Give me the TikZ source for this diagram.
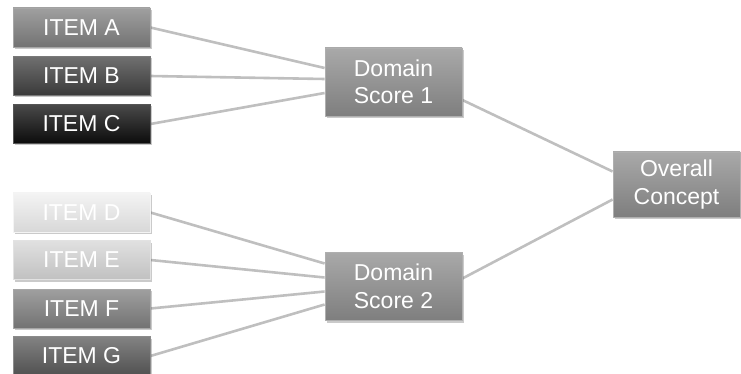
\documentclass[tikz,border=0pt]{standalone}
\usepackage{fontspec}
\setmainfont{Liberation Sans}
\usetikzlibrary{shadows,backgrounds}
\colorlet{cA}{black!50}
\colorlet{cB}{black!75}
\colorlet{cC}{black!95}
\colorlet{cD}{black!6}
\colorlet{cE}{black!16}
\colorlet{cF}{black!50}
\colorlet{cG}{black!65}
\colorlet{cDom}{black!45}
\begin{document}
\begin{tikzpicture}[x=1pt,y=-1pt,
  box/.style={rectangle, draw=#1!70!white, line width=0.8pt,
    top color=#1!75!white, bottom color=#1!90!black,
    text=white, font=\fontsize{23}{27.5}\selectfont, align=center, inner sep=0pt,
    drop shadow={shadow xshift=1.5pt, shadow yshift=-2pt, opacity=0.35, fill=black!60}},
  itembox/.style={box=#1, minimum width=137pt, minimum height=39pt},
  domainbox/.style={box=#1, minimum width=137pt, minimum height=68pt},
  link/.style={draw=black!25, line width=2.6pt}]
\useasboundingbox (0,0) rectangle (741,374);

% left column: items
\node[itembox=cA] (a) at (81.5,27.5) {ITEM A};
\node[itembox=cB] (b) at (81.5,76) {ITEM B};
\node[itembox=cC] (c) at (81.5,124) {ITEM C};
\node[itembox=cD] (d) at (81.5,212.5) {ITEM D};
\node[itembox=cE] (e) at (81.5,260) {ITEM E};
\node[itembox=cF] (f) at (81.5,308.5) {ITEM F};
\node[itembox=cG] (g) at (81.5,356) {ITEM G};

% middle column: domain scores
\node[domainbox=cDom] (d1) at (393.5,82) {Domain\\Score 1};
\node[domainbox=cDom] (d2) at (393.5,286.5) {Domain\\Score 2};

% right column: overall concept
\node[box=cDom, minimum width=127pt, minimum height=65pt] (oc) at (676.5,184.5) {Overall\\Concept};

% connectors, behind the boxes
\begin{scope}[on background layer]
\path[link] (a.east) -- ([yshift=14pt]d1.west);
\path[link] (b.east) -- ([yshift=3pt]d1.west);
\path[link] (c.east) -- ([yshift=-11pt]d1.west);
\path[link] (d.east) -- ([yshift=23pt]d2.west);
\path[link] (e.east) -- ([yshift=9pt]d2.west);
\path[link] (f.east) -- ([yshift=-5pt]d2.west);
\path[link] (g.east) -- ([yshift=-18pt]d2.west);
\path[link] ([yshift=-18pt]d1.east) -- ([yshift=13pt]oc.west);
\path[link] ([yshift=8pt]d2.east) -- ([yshift=-15pt]oc.west);
\end{scope}
\end{tikzpicture}
\end{document}
